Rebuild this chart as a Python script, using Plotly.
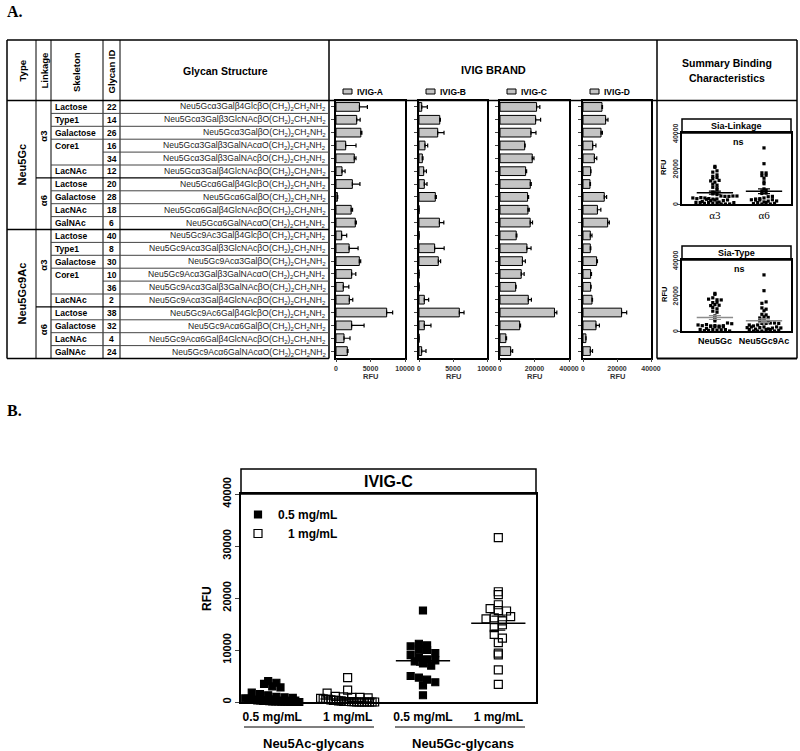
import numpy as np
import plotly.graph_objects as go

W, H = 800, 751
SANS = "Liberation Sans, Arial, sans-serif"
SERIF = "Liberation Serif, Times New Roman, serif"

# ---- table A ----
sia_type = ["Neu5Gc"] * 10 + ["Neu5Gc9Ac"] * 10
linkage = ["α3"] * 6 + ["α6"] * 4 + ["α3"] * 6 + ["α6"] * 4
skeleton = ["Lactose", "Type1", "Galactose", "Core1", "", "LacNAc",
            "Lactose", "Galactose", "LacNAc", "GalNAc",
            "Lactose", "Type1", "Galactose", "Core1", "", "LacNAc",
            "Lactose", "Galactose", "LacNAc", "GalNAc"]
glycan_id = [22, 14, 26, 16, 34, 12, 20, 28, 18, 6, 40, 8, 30, 10, 36, 2, 38, 32, 4, 24]
structure_head = ["Neu5Gcα3Galβ4Glcβ", "Neu5Gcα3Galβ3GlcNAcβ", "Neu5Gcα3Galβ",
                  "Neu5Gcα3Galβ3GalNAcα", "Neu5Gcα3Galβ3GalNAcβ", "Neu5Gcα3Galβ4GlcNAcβ",
                  "Neu5Gcα6Galβ4Glcβ", "Neu5Gcα6Galβ", "Neu5Gcα6Galβ4GlcNAcβ", "Neu5Gcα6GalNAcα",
                  "Neu5Gc9Ac3Galβ4Glcβ", "Neu5Gc9Acα3Galβ3GlcNAcβ", "Neu5Gc9Acα3Galβ",
                  "Neu5Gc9Acα3Galβ3GalNAcα", "Neu5Gc9Acα3Galβ3GalNAcβ", "Neu5Gc9Acα3Galβ4GlcNAcβ",
                  "Neu5Gc9Ac6Galβ4Glcβ", "Neu5Gc9Acα6Galβ", "Neu5Gc9Acα6Galβ4GlcNAcβ",
                  "Neu5Gc9Acα6GalNAcα"]
linker = "O(CH<sub>2</sub>)<sub>2</sub>CH<sub>2</sub>NH<sub>2</sub>"

brands = ["IVIG-A", "IVIG-B", "IVIG-C", "IVIG-D"]
ivig_a = [3400, 3000, 3600, 1400, 2650, 870, 2370, 200, 2200, 2800,
          820, 1900, 3380, 2270, 1060, 1930, 7340, 2270, 1160, 1640]
ivig_a_err = [1150, 500, 150, 1500, 250, 450, 1100, 50, 200, 150,
              730, 1300, 200, 600, 800, 500, 870, 1800, 870, 100]
ivig_b = [400, 3050, 2750, 880, 490, 690, 780, 2400, 0, 3000,
          0, 2300, 2840, 0, 0, 780, 5930, 780, 0, 390]
ivig_b_err = [830, 100, 930, 400, 100, 400, 400, 150, 0, 650,
              0, 1400, 340, 0, 0, 640, 690, 980, 0, 640]
ivig_c = [21200, 20650, 17950, 14300, 18700, 14860, 17560, 16000, 16200, 17500,
          9400, 15600, 13000, 12300, 9070, 16400, 31600, 11400, 3400, 6180]
ivig_c_err = [1900, 2900, 2900, 300, 1000, 580, 580, 580, 770, 1350,
              400, 2400, 1700, 1700, 300, 1800, 1350, 500, 400, 1160]
ivig_d = [11170, 13300, 10600, 5700, 6700, 4500, 4100, 12500, 8500, 14500,
          4300, 4300, 8000, 4500, 4500, 5300, 22700, 7640, 1700, 4300]
ivig_d_err = [300, 1400, 800, 1900, 1400, 200, 300, 1400, 2000, 1000,
              1000, 300, 500, 500, 300, 300, 3000, 2000, 100, 1300]
brand_max = [10000, 10000, 40000, 40000]
brand_ticks = [[0, 5000, 10000], [0, 5000, 10000], [0, 20000, 40000], [0, 20000, 40000]]
summary_ticks = [0, 20000, 40000]

# ---- panel B (IVIG-C at two concentrations) ----
b_labels = ["0.5 mg/mL", "1 mg/mL", "0.5 mg/mL", "1 mg/mL"]
b_groups = ["Neu5Ac-glycans", "Neu5Gc-glycans"]
neu5ac_05 = [4000, 3700, 3500, 3000, 2800, 1800, 1500, 1300, 1000, 900, 800, 700, 600, 500, 400,
             300, 300, 200, 200, 150, 100, 100, 100, 50, 50, 50, 0, 0, 0, 0]
neu5ac_1 = [4700, 2300, 1700, 1100, 1000, 900, 900, 800, 700, 600, 500, 500, 400, 300, 300,
            200, 200, 100, 100, 100, 50, 50, 0, 0, 0, 0, 0, 0, 0, 0]
neu5gc_05 = [17600, 11200, 10900, 10700, 10200, 10000, 9400, 9000, 8700, 8200,
             8000, 7800, 7400, 7000, 5000, 4700, 4300, 3800, 3200, 1300]
neu5gc_1 = ivig_c


def fx(x):
    return x / W


def fy(y):
    return 1 - y / H


def swarm(vals, center, y_px, x_px, ybin, xstep, half):
    vals = np.asarray(vals, float)
    keys = np.round(vals * y_px / ybin).astype(int)
    xs = np.zeros(len(vals))
    for k in np.unique(keys):
        idx = np.where(keys == k)[0]
        n = len(idx)
        gap = xstep if n <= 1 else min(xstep, 2 * half / (n - 1))
        xs[idx] = center + (np.arange(n) - (n - 1) / 2) * gap / x_px
    return xs


def txt(x, y, s, size=9, bold=True, xanchor="center", angle=0, family=SANS, color="black"):
    return dict(x=fx(x), y=fy(y), xref="paper", yref="paper", showarrow=False,
                text=f"<b>{s}</b>" if bold else s, xanchor=xanchor, yanchor="middle",
                textangle=angle, font=dict(size=size, family=family, color=color))


def hline(x0, x1, y, w=1, c="black"):
    return dict(type="line", xref="paper", yref="paper", x0=fx(x0), x1=fx(x1), y0=fy(y), y1=fy(y),
                line=dict(color=c, width=w))


def vline(x, y0, y1, w=1, c="black"):
    return dict(type="line", xref="paper", yref="paper", x0=fx(x), x1=fx(x), y0=fy(y0), y1=fy(y1),
                line=dict(color=c, width=w))


def rect(x0, y0, x1, y1, w=1.2, fill="white"):
    return dict(type="rect", xref="paper", yref="paper", x0=fx(x0), x1=fx(x1), y0=fy(y0), y1=fy(y1),
                line=dict(color="black", width=w), fillcolor=fill, layer="below")


fig = go.Figure()
rows = list(range(len(glycan_id)))
bar_vals = [ivig_a, ivig_b, ivig_c, ivig_d]
bar_errs = [ivig_a_err, ivig_b_err, ivig_c_err, ivig_d_err]
panel_x = [(336, 405), (419, 487), (500, 569), (583, 651)]

layout_axes = {}
for k in range(4):
    s = "" if k == 0 else str(k + 1)
    fig.add_trace(go.Bar(
        x=bar_vals[k], y=rows, orientation="h", width=0.68,
        marker=dict(color="#c4c4c4", line=dict(color="black", width=1)),
        error_x=dict(type="data", symmetric=False, array=bar_errs[k], arrayminus=[0] * len(rows),
                     color="black", thickness=1.2, width=2),
        xaxis="x" + s, yaxis="y" + s, showlegend=False))
    layout_axes["xaxis" + s] = dict(
        domain=[fx(panel_x[k][0]), fx(panel_x[k][1])], range=[0, brand_max[k]],
        tickvals=brand_ticks[k], tickformat="d", ticks="outside", ticklen=3, showline=True,
        linewidth=1.8, linecolor="black", mirror=True, showgrid=False, zeroline=False,
        anchor="y" + s, automargin=False,
        tickfont=dict(size=7, family=SANS, color="#333", weight="bold"))
    layout_axes["yaxis" + s] = dict(
        domain=[fy(357.5), fy(100.5)], range=[len(rows) - 0.5, -0.5], tickvals=rows,
        showticklabels=False, ticks="outside", ticklen=3, showline=True, linewidth=1.8,
        linecolor="black", mirror=True, showgrid=False, zeroline=False, anchor="x" + s,
        automargin=False)

# ---- summary panels ----
idx = range(len(glycan_id))
alpha3 = [v for b in bar_vals for i, v in zip(idx, b) if linkage[i] == "α3"]
alpha6 = [v for b in bar_vals for i, v in zip(idx, b) if linkage[i] == "α6"]
gc = [v for b in bar_vals for i, v in zip(idx, b) if sia_type[i] == "Neu5Gc"]
gc9 = [v for b in bar_vals for i, v in zip(idx, b) if sia_type[i] == "Neu5Gc9Ac"]

ann = []
sum_panels = [("5", [alpha3, alpha6], ["α3", "α6"], 133, 204, "black", SERIF, False, 11),
              ("6", [gc, gc9], ["Neu5Gc", "Neu5Gc9Ac"], 260, 331, "#8c8c8c", SANS, True, 9)]
for s, groups, labels, top, bot, mcol, fam, bold, fs in sum_panels:
    y_px = (bot - top) / 40000
    for j, g in enumerate(groups):
        c = j + 1
        fig.add_trace(go.Scatter(
            x=swarm(g, c, y_px, 49, 3.2, 4.2, 22), y=g, mode="markers", cliponaxis=False,
            marker=dict(symbol="square", size=3.2, color="black"),
            xaxis="x" + s, yaxis="y" + s, showlegend=False))
        m = float(np.mean(g))
        sem = float(np.std(g, ddof=1) / np.sqrt(len(g)))
        fig.add_trace(go.Scatter(x=[c - 0.37, c + 0.37], y=[m, m], mode="lines",
                                 line=dict(color=mcol, width=1.5),
                                 xaxis="x" + s, yaxis="y" + s, showlegend=False))
        fig.add_trace(go.Scatter(x=[c], y=[m], mode="markers", marker=dict(opacity=0),
                                 error_y=dict(type="data", array=[sem], color=mcol, thickness=1.2, width=6),
                                 xaxis="x" + s, yaxis="y" + s, showlegend=False))
    layout_axes["xaxis" + s] = dict(
        domain=[fx(682), fx(791)], range=[0.33, 2.55], tickvals=[1, 2], ticktext=labels,
        ticks="", showline=True, linewidth=1.5, linecolor="black", mirror=True, showgrid=False,
        zeroline=False, anchor="y" + s, automargin=False,
        tickfont=dict(size=fs, family=fam, color="black", weight="bold" if bold else "normal"))
    layout_axes["yaxis" + s] = dict(
        domain=[fy(bot), fy(top)], range=[0, 40000], tickvals=summary_ticks,
        showticklabels=False, ticks="outside", ticklen=3,
        showline=True, linewidth=1.5, linecolor="black", mirror=True, showgrid=False,
        zeroline=False, anchor="x" + s, automargin=False)
    # tick labels placed on the axis' own scale
    for t in summary_ticks:
        ann.append(dict(x=fx(675), xref="paper", y=t, yref="y" + s, text=f"<b>{t}</b>",
                        showarrow=False, textangle=-90, xanchor="center", yanchor="middle",
                        font=dict(size=7, family=SANS, color="#333")))

# ---- panel B ----
b_sets = [neu5ac_05, neu5ac_1, neu5gc_05, neu5gc_1]
b_y_px = (702 - 494) / 40000
for j, g in enumerate(b_sets):
    c = j + 1
    filled = j % 2 == 0
    fig.add_trace(go.Scatter(
        x=swarm(g, c, b_y_px, 75.3, 7.5, 8.2, 27), y=g, mode="markers", cliponaxis=False,
        marker=dict(symbol="square" if filled else "square-open", size=7 if filled else 8,
                    color="black", line=dict(width=1.2, color="black")),
        name=b_labels[j] if filled else "\u00a0\u00a0\u00a0" + b_labels[j],
        showlegend=j < 2, xaxis="x7", yaxis="y7"))
    m = float(np.mean(g))
    sem = float(np.std(g, ddof=1) / np.sqrt(len(g)))
    fig.add_trace(go.Scatter(x=[c - 0.36, c + 0.36], y=[m, m], mode="lines",
                             line=dict(color="black", width=1.5),
                             xaxis="x7", yaxis="y7", showlegend=False))
    fig.add_trace(go.Scatter(x=[c], y=[m], mode="markers", marker=dict(opacity=0),
                             error_y=dict(type="data", array=[sem], color="black", thickness=1.2, width=7),
                             xaxis="x7", yaxis="y7", showlegend=False))
layout_axes["xaxis7"] = dict(
    domain=[fx(241), fx(536)], range=[0.585, 4.5], tickvals=[1, 2, 3, 4], ticktext=b_labels,
    ticks="", showline=True, linewidth=1.5, linecolor="black", mirror=True, showgrid=False,
    zeroline=False, anchor="y7", automargin=False, ticklabelstandoff=3,
    tickfont=dict(size=12, family=SANS, color="black", weight="bold"))
layout_axes["yaxis7"] = dict(
    domain=[fy(702), fy(494)], range=[0, 40000], tickvals=[0, 10000, 20000, 30000, 40000],
    tickformat="d", ticks="outside", ticklen=4, tickangle=-90, showline=True, linewidth=1.5,
    linecolor="black", mirror=True, showgrid=False, zeroline=False, anchor="x7", automargin=False,
    tickfont=dict(size=11, family=SANS, color="black", weight="bold"))

# ---- table lines ----
row_h = (358.5 - 100.5) / len(rows)
shapes = [hline(7, 797, 40, 1.5), hline(7, 797, 100.5, 1.5),
          hline(7, 329, 358.5, 1.5), hline(657, 797, 358.5, 2)]
for x in [7, 36, 51, 103, 120, 329, 657, 797]:
    shapes.append(vline(x, 40, 358.5, 1.5 if x in (7, 797, 329, 657) else 1))
for i in range(1, len(rows)):
    y = 100.5 + i * row_h
    if sia_type[i] != sia_type[i - 1]:
        x0, w = 7, 1.5
    elif linkage[i] != linkage[i - 1]:
        x0, w = 36, 1.2
    elif skeleton[i]:
        x0, w = 51, 1
    else:
        x0, w = 103, 1
    shapes.append(hline(x0, 329, y, w, "#444" if w == 1 else "black"))

# legend boxes above bar panels
for k in range(4):
    x0 = panel_x[k][0] + 7
    shapes.append(rect(x0, 89, x0 + 9, 94, 1, "#c4c4c4"))
# summary strips
shapes += [rect(682, 119, 791, 133, 1.5), rect(682, 246, 791, 260, 1.5), rect(241, 469, 536, 494, 1.5)]
# panel B group underlines
shapes += [hline(244, 374, 727, 1.2), hline(395, 525, 727, 1.2)]

ann += [txt(5, 11, "A.", 16, xanchor="left", family=SERIF),
        txt(5, 410, "B.", 16, xanchor="left", family=SERIF),
        txt(21.5, 71, "Type", 9.5, angle=-90), txt(43.5, 71, "Linkage", 9.5, angle=-90),
        txt(77, 72, "Skeleton", 9.5, angle=-90), txt(111.5, 72, "Glycan ID", 9.5, angle=-90),
        txt(225, 71, "Glycan Structure", 10.5), txt(493, 70, "IVIG BRAND", 11),
        txt(727, 63, "Summary Binding", 10.5), txt(727, 78, "Characteristics", 10.5)]
for k in range(4):
    x0 = panel_x[k][0] + 19
    ann.append(txt(x0, 91.5, brands[k], 8.5, xanchor="left"))
    ann.append(txt(sum(panel_x[k]) / 2, 376, "RFU", 7.5, color="#333"))
for i in rows:
    yc = 100.5 + (i + 0.5) * row_h
    if skeleton[i]:
        ann.append(txt(53, yc, skeleton[i], 8.5, xanchor="left"))
    ann.append(txt(111.5, yc, str(glycan_id[i]), 8.5))
    ann.append(txt(327.5, yc, structure_head[i] + linker, 8.6, bold=False, xanchor="right", color="#222"))
# merged type / linkage cells
for lab_list, xc, size in [(sia_type, 21.5, 11), (linkage, 43.5, 9.5)]:
    start = 0
    for i in range(1, len(rows) + 1):
        if i == len(rows) or lab_list[i] != lab_list[start] or sia_type[i] != sia_type[start]:
            yc = 100.5 + (start + i) / 2 * row_h
            ann.append(txt(xc, yc - (3 if size < 10 else 0), lab_list[start], size, angle=-90))
            start = i
ann += [txt(736.5, 126, "Sia-Linkage", 9), txt(738, 142, "ns", 9), txt(664, 168, "RFU", 7.5, angle=-90),
        txt(736.5, 253, "Sia-Type", 9), txt(739, 269, "ns", 9), txt(664, 295, "RFU", 7.5, angle=-90),
        txt(388, 481.5, "IVIG-C", 16), txt(207, 598, "RFU", 12, angle=-90),
        txt(313, 743, b_groups[0], 13), txt(463, 743, b_groups[1], 13)]

fig.update_layout(
    width=W, height=H, margin=dict(l=0, r=0, t=0, b=0, autoexpand=False),
    paper_bgcolor="white", plot_bgcolor="white",
    shapes=shapes, annotations=ann, bargap=0.3,
    legend=dict(x=fx(238), y=fy(500), xanchor="left", yanchor="top", bgcolor="rgba(0,0,0,0)",
                font=dict(size=12, family=SANS, color="black", weight="bold"), tracegroupgap=0),
    **layout_axes)

# the page's default body margin would push the figure 8px off the frame
fig.write_html("out.html", config={"displayModeBar": False},
               post_script="document.body.style.margin = '0';")
